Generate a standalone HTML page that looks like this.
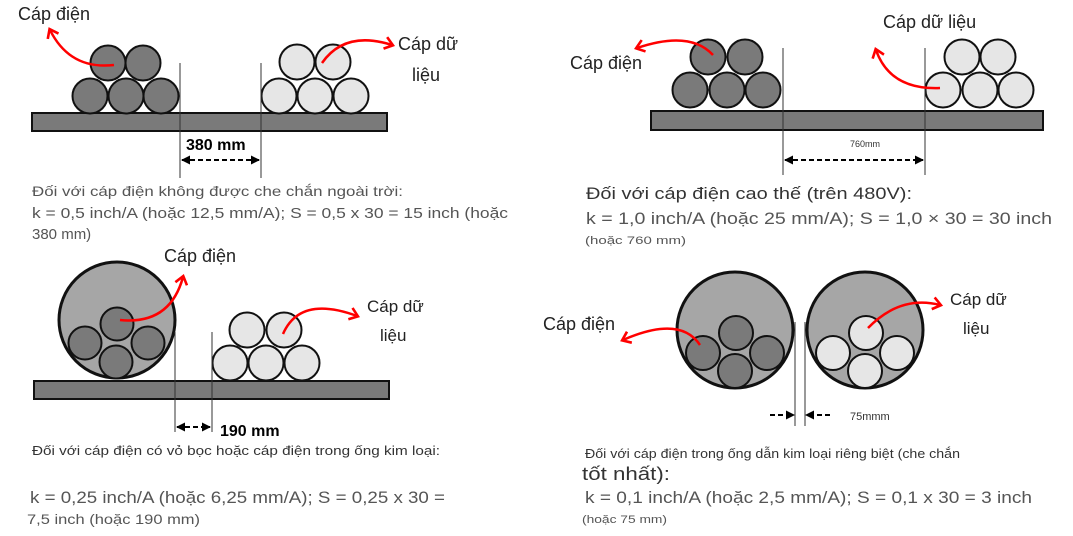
<!DOCTYPE html>
<html><head><meta charset="utf-8"><style>
html,body{margin:0;padding:0;background:#fff;}
svg{display:block;}
text{font-family:"Liberation Sans",sans-serif;}
</style></head><body>
<svg width="1073" height="536" viewBox="0 0 1073 536" xmlns="http://www.w3.org/2000/svg">
<defs>
<marker id="ra" markerWidth="14" markerHeight="14" refX="8" refY="7" orient="auto" markerUnits="userSpaceOnUse" viewBox="0 0 14 14"><path d="M1,1 L9,7 L1,13" fill="none" stroke="#f00" stroke-width="2.6"/></marker>
<marker id="ba" markerWidth="9" markerHeight="9" refX="8" refY="4.5" orient="auto-start-reverse" markerUnits="userSpaceOnUse" viewBox="0 0 9 9"><path d="M0,0 L9,4.5 L0,9 Z" fill="#000"/></marker>
</defs>
<g stroke="#111" stroke-width="2">
<rect x="32" y="113" width="355" height="18" fill="#7a7a7a"/>
<g fill="#7a7a7a">
<circle cx="90" cy="96" r="17.5"/><circle cx="126" cy="96" r="17.5"/><circle cx="161" cy="96" r="17.5"/>
<circle cx="108" cy="63" r="17.5"/><circle cx="143" cy="63" r="17.5"/></g>
<g fill="#e6e6e6">
<circle cx="279" cy="96" r="17.5"/><circle cx="315" cy="96" r="17.5"/><circle cx="351" cy="96" r="17.5"/>
<circle cx="297" cy="62" r="17.5"/><circle cx="333" cy="62" r="17.5"/></g>
<rect x="651" y="111" width="392" height="19" fill="#7a7a7a"/>
<g fill="#7a7a7a">
<circle cx="690" cy="90" r="17.5"/><circle cx="727" cy="90" r="17.5"/><circle cx="763" cy="90" r="17.5"/>
<circle cx="708" cy="57" r="17.5"/><circle cx="745" cy="57" r="17.5"/></g>
<g fill="#e6e6e6">
<circle cx="943" cy="90" r="17.5"/><circle cx="980" cy="90" r="17.5"/><circle cx="1016" cy="90" r="17.5"/>
<circle cx="962" cy="57" r="17.5"/><circle cx="998" cy="57" r="17.5"/></g>
<rect x="34" y="381" width="355" height="18" fill="#7a7a7a"/>
<circle cx="117" cy="320" r="58" fill="#a6a6a6" stroke-width="3"/>
<g fill="#7a7a7a">
<circle cx="117" cy="324" r="16.5"/><circle cx="85" cy="343" r="16.5"/><circle cx="148" cy="343" r="16.5"/><circle cx="116" cy="362" r="16.5"/></g>
<g fill="#e6e6e6">
<circle cx="230" cy="363" r="17.5"/><circle cx="266" cy="363" r="17.5"/><circle cx="302" cy="363" r="17.5"/>
<circle cx="247" cy="330" r="17.5"/><circle cx="284" cy="330" r="17.5"/></g>
<circle cx="735" cy="330" r="58" fill="#a6a6a6" stroke-width="3"/>
<circle cx="865" cy="330" r="58" fill="#a6a6a6" stroke-width="3"/>
<g fill="#7a7a7a">
<circle cx="736" cy="333" r="17"/><circle cx="703" cy="353" r="17"/><circle cx="767" cy="353" r="17"/><circle cx="735" cy="371" r="17"/></g>
<g fill="#e6e6e6">
<circle cx="866" cy="333" r="17"/><circle cx="833" cy="353" r="17"/><circle cx="897" cy="353" r="17"/><circle cx="865" cy="371" r="17"/></g>
</g>
<g stroke="#333" stroke-width="1">
<line x1="180" y1="63" x2="180" y2="178"/><line x1="261" y1="63" x2="261" y2="178"/>
<line x1="783" y1="48" x2="783" y2="175"/><line x1="925" y1="48" x2="925" y2="175"/>
<line x1="175" y1="332" x2="175" y2="432"/><line x1="212" y1="332" x2="212" y2="432"/>
<line x1="795" y1="322" x2="795" y2="426"/><line x1="805" y1="322" x2="805" y2="426"/>
</g>
<g stroke="#000" stroke-width="2" stroke-dasharray="5,3" fill="none">
<line x1="182" y1="160" x2="259" y2="160" marker-start="url(#ba)" marker-end="url(#ba)"/>
<line x1="785" y1="160" x2="923" y2="160" marker-start="url(#ba)" marker-end="url(#ba)"/>
<line x1="177" y1="427" x2="210" y2="427" marker-start="url(#ba)" marker-end="url(#ba)"/>
<line x1="770" y1="415" x2="794" y2="415" marker-end="url(#ba)"/>
<line x1="830" y1="415" x2="806" y2="415" marker-end="url(#ba)"/>
</g>
<g stroke="#f00" stroke-width="2.5" fill="none">
<path d="M114,65 Q70,70 50,30" marker-end="url(#ra)"/>
<path d="M322,63 Q345,30 392,45" marker-end="url(#ra)"/>
<path d="M713,55 Q690,30 637,48" marker-end="url(#ra)"/>
<path d="M940,88 Q890,90 876,50" marker-end="url(#ra)"/>
<path d="M120,320 Q170,325 183,277" marker-end="url(#ra)"/>
<path d="M283,334 Q300,295 357,316" marker-end="url(#ra)"/>
<path d="M700,345 Q680,315 623,340" marker-end="url(#ra)"/>
<path d="M868,328 Q900,295 940,305" marker-end="url(#ra)"/>
</g>
<g fill="#222" font-size="18">
<text x="18" y="20">Cáp điện</text>
<text x="398" y="50">Cáp dữ</text><text x="412" y="81">liệu</text>
<text x="570" y="69">Cáp điện</text>
<text x="883" y="28">Cáp dữ liệu</text>
<text x="164" y="262">Cáp điện</text>
<text x="367" y="312" font-size="17">Cáp dữ</text><text x="380" y="341" font-size="17">liệu</text>
<text x="543" y="330">Cáp điện</text>
<text x="950" y="305" font-size="17">Cáp dữ</text><text x="963" y="334" font-size="17">liệu</text>
</g>
<g fill="#000" font-weight="bold" font-size="16">
<text x="186" y="150">380 mm</text>
<text x="220" y="436">190 mm</text>
</g>
<text x="850" y="147" font-size="9" fill="#333">760mm</text>
<text x="850" y="420" font-size="11" fill="#333">75mmm</text>
<g fill="#555">
<text x="32" y="196" font-size="14" textLength="371" lengthAdjust="spacingAndGlyphs">Đối với cáp điện không được che chắn ngoài trời:</text>
<text x="32" y="218" font-size="15" textLength="476" lengthAdjust="spacingAndGlyphs">k = 0,5 inch/A (hoặc 12,5 mm/A); S = 0,5 x 30 = 15 inch (hoặc</text>
<text x="32" y="239" font-size="15">380 mm)</text>
<text x="586" y="199" font-size="17" fill="#333" textLength="326" lengthAdjust="spacingAndGlyphs">Đối với cáp điện cao thế (trên 480V):</text>
<text x="586" y="224" font-size="17" textLength="466" lengthAdjust="spacingAndGlyphs">k = 1,0 inch/A (hoặc 25 mm/A); S = 1,0 × 30 = 30 inch</text>
<text x="585" y="244" font-size="11" textLength="101" lengthAdjust="spacingAndGlyphs">(hoặc 760 mm)</text>
<text x="32" y="455" font-size="13" fill="#333" textLength="408" lengthAdjust="spacingAndGlyphs">Đối với cáp điện có vỏ bọc hoặc cáp điện trong ống kim loại:</text>
<text x="30" y="503" font-size="17" textLength="415" lengthAdjust="spacingAndGlyphs">k = 0,25 inch/A (hoặc 6,25 mm/A); S = 0,25 x 30 =</text>
<text x="27" y="524" font-size="14" textLength="173" lengthAdjust="spacingAndGlyphs">7,5 inch (hoặc 190 mm)</text>
<text x="585" y="458" font-size="13" fill="#333" textLength="375" lengthAdjust="spacingAndGlyphs">Đối với cáp điện trong ống dẫn kim loại riêng biệt (che chắn</text>
<text x="582" y="480" font-size="18" fill="#333" textLength="88" lengthAdjust="spacingAndGlyphs">tốt nhất):</text>
<text x="585" y="503" font-size="17" textLength="447" lengthAdjust="spacingAndGlyphs">k = 0,1 inch/A (hoặc 2,5 mm/A); S = 0,1 x 30 = 3 inch</text>
<text x="582" y="523" font-size="11" textLength="85" lengthAdjust="spacingAndGlyphs">(hoặc 75 mm)</text>
</g>
</svg>
</body></html>
